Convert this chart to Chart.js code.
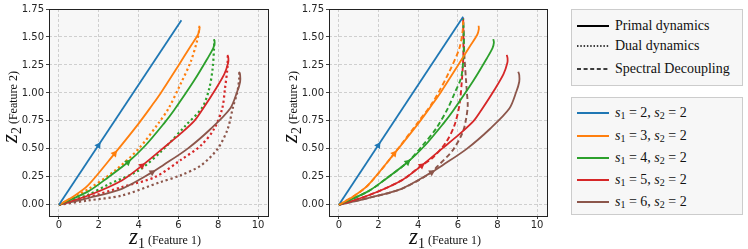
<!DOCTYPE html>
<html>
<head>
<meta charset="utf-8">
<script src="https://cdn.jsdelivr.net/npm/chart.js@4"></script>
<style>
  body { margin: 0; background: #fff; }
  #wrap { position: relative; width: 748px; height: 249px; overflow: hidden; }
  canvas { position: absolute; top: 0; }
  .box { position: absolute; box-sizing: border-box; border: 1px solid #cccccc; background: #f7f7f7; }
  .row { position: absolute; left: 0; height: 16px; line-height: 16px; width: 100%; }
  .row svg { position: absolute; left: 5px; top: 6px; }
  .row span { position: absolute; left: 43px; font-family: "Liberation Serif", serif; font-size: 14px; color: #111; white-space: nowrap; }
  .row sub { font-size: 10px; vertical-align: -2px; line-height: 0; }
</style>
</head>
<body>
<div id="wrap">
  <canvas id="leftChart" width="280" height="249" style="left:0"></canvas>
  <canvas id="rightChart" width="275" height="249" style="left:280px"></canvas>

  <div class="box" style="left:571px; top:9px; width:172px; height:77px">
    <div class="row" style="top:8px"><svg width="32" height="4"><line x1="0" y1="2" x2="32" y2="2" stroke="#000" stroke-width="2"/></svg><span>Primal dynamics</span></div>
    <div class="row" style="top:28px"><svg width="32" height="4"><line x1="0" y1="2" x2="32" y2="2" stroke="#000" stroke-width="1.6" stroke-dasharray="1.5,1.8"/></svg><span>Dual dynamics</span></div>
    <div class="row" style="top:51px"><svg width="32" height="4"><line x1="0" y1="2" x2="32" y2="2" stroke="#000" stroke-width="1.6" stroke-dasharray="4,2.6"/></svg><span>Spectral Decoupling</span></div>
  </div>

  <div class="box" id="seriesBox" style="left:571px; top:97px; width:172px; height:118px"></div>
</div>

<script>
// series colours (s1 = 2 .. 6)
const colors = ['#1f77b4', '#ff7f0e', '#2ca02c', '#d62728', '#8c564b'];
const s1Values = [2, 3, 4, 5, 6];
const s2Value = 2;

const xTicks = [0, 2, 4, 6, 8, 10];
const yTicks = [0, 0.25, 0.5, 0.75, 1.0, 1.25, 1.5, 1.75];

// primal dynamics, [z1, z2]
const primal_s2 = [[0, 0], [6.15, 1.65]];
const primal_s3 = [[0, 0], [0.8, 0.083], [1.47, 0.175], [2.79, 0.457], [4.0, 0.726], [4.68, 0.89], [5.1, 0.995], [5.95, 1.23], [6.62, 1.42], [6.98, 1.52], [7.06, 1.57], [7.05, 1.60]];
const primal_s4 = [[0, 0], [1.47, 0.12], [2.48, 0.247], [3.46, 0.38], [4.34, 0.53], [5.27, 0.726], [5.78, 0.845], [6.79, 1.11], [7.47, 1.31], [7.75, 1.40], [7.82, 1.45], [7.79, 1.48]];
const primal_s5 = [[0, 0], [1.47, 0.083], [3.16, 0.218], [4.17, 0.35], [5.19, 0.50], [6.11, 0.636], [6.8, 0.75], [7.2, 0.85], [7.89, 1.04], [8.31, 1.17], [8.5, 1.27], [8.51, 1.31], [8.47, 1.34]];
const primal_s6 = [[0, 0], [1.47, 0.06], [3.16, 0.143], [4.68, 0.29], [5.2, 0.35], [6.45, 0.50], [7.63, 0.68], [8.6, 0.86], [8.95, 1.01], [9.1, 1.10], [9.1, 1.16], [9.05, 1.19]];

// dual dynamics
const dual_s3 = [[0, 0], [1.47, 0.14], [2.82, 0.307], [4.0, 0.50], [5.0, 0.73], [5.5, 0.86], [6.11, 1.08], [6.62, 1.28], [6.93, 1.46], [7.04, 1.56], [7.05, 1.59]];
const dual_s4 = [[0, 0], [1.47, 0.09], [2.48, 0.182], [4.0, 0.307], [5.19, 0.487], [6.37, 0.71], [7.2, 0.87], [7.55, 1.04], [7.72, 1.22], [7.79, 1.40], [7.8, 1.47]];
const dual_s5 = [[0, 0], [1.47, 0.067], [3.16, 0.158], [4.85, 0.25], [6.11, 0.40], [7.13, 0.53], [7.8, 0.68], [8.2, 0.86], [8.34, 1.04], [8.46, 1.22], [8.48, 1.33]];
const dual_s6 = [[0, 0], [1.47, 0.039], [3.16, 0.083], [5.1, 0.203], [6.11, 0.263], [7.13, 0.352], [7.97, 0.50], [8.48, 0.68], [8.75, 0.88], [8.95, 1.0], [9.05, 1.12], [9.06, 1.19]];

// spectral decoupling
const spectral_s2 = [[0, 0], [6.27, 1.68]];
const spectral_s3 = [[0, 0], [0.8, 0.083], [1.47, 0.175], [2.79, 0.457], [4.0, 0.74], [4.75, 0.92], [5.57, 1.19], [6.08, 1.40], [6.24, 1.55], [6.27, 1.64]];
const spectral_s4 = [[0, 0], [1.47, 0.12], [2.48, 0.247], [3.46, 0.38], [4.22, 0.53], [4.9, 0.68], [5.49, 0.86], [5.83, 0.995], [6.17, 1.14], [6.29, 1.34], [6.3, 1.5], [6.27, 1.66]];
const spectral_s5 = [[0, 0], [1.47, 0.083], [3.16, 0.218], [4.13, 0.346], [4.73, 0.42], [5.41, 0.56], [5.83, 0.71], [6.08, 0.89], [6.2, 1.1], [6.28, 1.35], [6.27, 1.67]];
const spectral_s6 = [[0, 0], [1.47, 0.06], [3.16, 0.143], [4.68, 0.29], [4.95, 0.34], [5.74, 0.487], [6.25, 0.65], [6.42, 0.77], [6.5, 0.89], [6.46, 1.0], [6.42, 1.10], [6.33, 1.34], [6.27, 1.67]];

// arrow heads on the primal curves: position and direction (deg)
const arrowX = [1.98, 2.79, 3.46, 4.17, 4.68];
const arrowY = [0.53, 0.457, 0.38, 0.35, 0.29];
const arrowRot = [33, 39, 49, 52, 59];

const toXY = arr => arr.map(p => ({ x: p[0], y: p[1] }));

function lineSet(arr, color, dash, width) {
    return {
        type: 'scatter',
        data: toXY(arr),
        showLine: true,
        borderColor: color,
        borderWidth: width || 1.8,
        borderDash: dash,
        borderCapStyle: 'butt',
        tension: 0.3,
        pointRadius: 0,
        pointHoverRadius: 0
    };
}

function arrowSets() {
    return colors.map((c, i) => ({
        type: 'scatter',
        data: [{ x: arrowX[i], y: arrowY[i] }],
        pointStyle: 'triangle',
        rotation: arrowRot[i],
        pointRadius: 4,
        backgroundColor: c,
        borderColor: c,
        borderWidth: 0
    }));
}

// axes background, frame and mixed-font axis titles
const framePlugin = {
    id: 'frame',
    beforeDraw(chart) {
        const a = chart.chartArea, ctx = chart.ctx;
        ctx.save();
        ctx.fillStyle = '#f7f7f7';
        ctx.fillRect(a.left, a.top, a.right - a.left, a.bottom - a.top);
        ctx.restore();
    },
    afterDraw(chart) {
        const a = chart.chartArea, ctx = chart.ctx;
        ctx.save();
        ctx.strokeStyle = '#222';
        ctx.lineWidth = 1;
        ctx.strokeRect(Math.round(a.left) + 0.5, Math.round(a.top) + 0.5, Math.round(a.right - a.left), Math.round(a.bottom - a.top));
        drawTitle(ctx, a.left + 80, 244, 0, '1', 'Feature 1');
        drawTitle(ctx, 17, 143, -Math.PI / 2, '2', 'Feature 2');
        ctx.restore();
    }
};

function drawTitle(ctx, x, y, angle, sub, word) {
    const parts = [
        ['z', 'italic 23px "Liberation Serif"', 0],
        [sub, '14px "Liberation Serif"', 4],
        [' (' + word + ')', '12px "Liberation Serif"', 0]
    ];
    ctx.save();
    ctx.translate(x, y);
    ctx.rotate(angle);
    ctx.fillStyle = '#111';
    ctx.textBaseline = 'alphabetic';
    let cx = 0;
    parts.forEach(p => {
        ctx.font = p[1];
        ctx.fillText(p[0], cx, p[2]);
        cx += ctx.measureText(p[0]).width;
    });
    ctx.restore();
}

function makeOptions(rightPad) {
    const tickFont = { family: '"DejaVu Sans"', size: 10 };
    return {
        responsive: false,
        animation: false,
        layout: { padding: { left: 0, right: rightPad, top: 9, bottom: 0 } },
        plugins: { legend: { display: false }, tooltip: { enabled: false } },
        scales: {
            x: {
                type: 'linear', min: -0.5, max: 10.5,
                afterBuildTicks: s => { s.ticks = xTicks.map(v => ({ value: v })); },
                afterFit: s => { s.height = 33; },
                ticks: { font: tickFont, color: '#262626', padding: 0, maxRotation: 0, callback: v => String(v) },
                grid: { color: '#cfcfcf', lineWidth: 1, tickLength: 3, tickColor: '#444', tickBorderDash: [] },
                border: { display: false, dash: [3, 2] }
            },
            y: {
                type: 'linear', min: -0.1, max: 1.75,
                afterBuildTicks: s => { s.ticks = yTicks.map(v => ({ value: v })); },
                afterFit: s => { s.width = 49; },
                ticks: { font: tickFont, color: '#262626', padding: 2, callback: v => v.toFixed(2) },
                grid: { color: '#cfcfcf', lineWidth: 1, tickLength: 3, tickColor: '#444', tickBorderDash: [] },
                border: { display: false, dash: [3, 2] }
            }
        }
    };
}

const primal = [primal_s2, primal_s3, primal_s4, primal_s5, primal_s6];
const dual = [null, dual_s3, dual_s4, dual_s5, dual_s6];
const spectral = [spectral_s2, spectral_s3, spectral_s4, spectral_s5, spectral_s6];

const leftSets = arrowSets();
primal.forEach((d, i) => leftSets.push(lineSet(d, colors[i], [])));
dual.forEach((d, i) => { if (d) leftSets.push(lineSet(d, colors[i], [2.2, 2.8], 2.2)); });

const rightSets = arrowSets();
primal.forEach((d, i) => { if (i > 0) rightSets.push(lineSet(d, colors[i], [])); });
rightSets.push(lineSet(spectral[0], colors[0], []));
spectral.forEach((d, i) => { if (i > 0) rightSets.push(lineSet(d, colors[i], [5, 3], 1.9)); });

new Chart(document.getElementById('leftChart'), {
    type: 'scatter',
    data: { datasets: leftSets },
    options: makeOptions(12),
    plugins: [framePlugin]
});

new Chart(document.getElementById('rightChart'), {
    type: 'scatter',
    data: { datasets: rightSets },
    options: makeOptions(8),
    plugins: [framePlugin]
});

// series legend
const seriesBox = document.getElementById('seriesBox');
const rowTops = [7, 30, 52, 74, 96];
s1Values.forEach((s1, i) => {
    const row = document.createElement('div');
    row.className = 'row';
    row.style.top = rowTops[i] + 'px';
    row.innerHTML = '<svg width="32" height="4"><line x1="0" y1="2" x2="32" y2="2" stroke="' + colors[i] +
        '" stroke-width="2"/></svg><span><i>s</i><sub>1</sub> = ' + s1 + ', <i>s</i><sub>2</sub> = ' + s2Value + '</span>';
    seriesBox.appendChild(row);
});
</script>
</body>
</html>
